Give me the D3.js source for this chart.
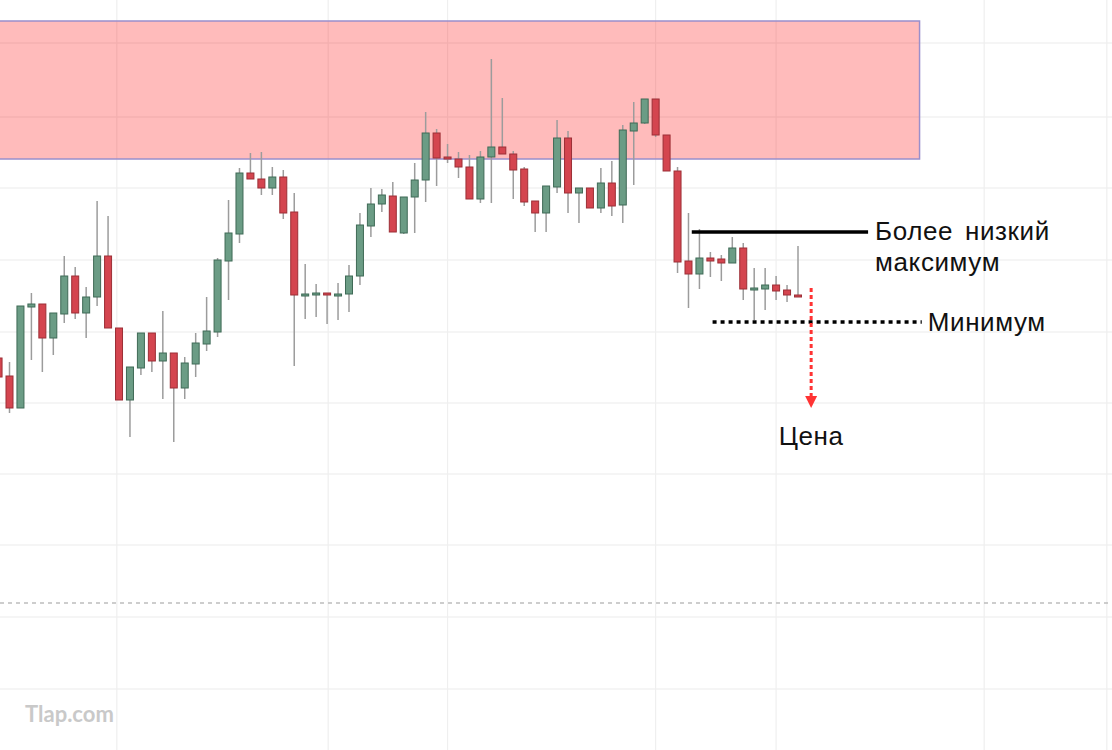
<!DOCTYPE html>
<html>
<head>
<meta charset="utf-8">
<script src="https://cdn.jsdelivr.net/npm/d3@7"></script>
<style>
  body { margin: 0; background: #fff; }
  svg { display: block; }
  .label { font-family: "Liberation Sans", Arial, sans-serif; font-size: 26px; fill: #111; letter-spacing: 0.6px; }
</style>
</head>
<body>
<svg id="chart" width="1112" height="750"></svg>
<script>
// candle data (price units)
const opens  = [1.1642,1.1624,1.1592,1.1693,1.1696,1.1662,1.1686,1.1724,1.1687,1.1703,
                1.1744,1.1672,1.1600,1.1632,1.1667,1.1639,1.1647,1.1612,1.1636,1.1656,
                1.1668,1.1739,1.1766,1.1827,1.1821,1.1812,1.1823,1.1788,1.1704,1.1705,
                1.1707,1.1705,1.1706,1.1724,1.1774,1.1796,1.1804,1.1767,1.1803,1.1820,
                1.1867,1.1843,1.1841,1.1833,1.1801,1.1843,1.1853,1.1846,1.1831,1.1799,
                1.1787,1.1813,1.1862,1.1807,1.1812,1.1792,1.1817,1.1795,1.1869,1.1877,
                1.1901,1.1865,1.1829,1.1739,1.1726,1.1742,1.1741,1.1737,1.1752,1.1711,
                1.1711,1.1715,1.1710,1.1705];
const highs  = [1.1648,1.1638,1.1694,1.1707,1.1696,1.1687,1.1744,1.1733,1.1713,1.1799,
                1.1784,1.1672,1.1633,1.1667,1.1667,1.1689,1.1647,1.1643,1.1667,1.1703,
                1.1742,1.1800,1.1832,1.1847,1.1848,1.1833,1.1830,1.1807,1.1736,1.1716,
                1.1707,1.1717,1.1735,1.1787,1.1812,1.1811,1.1818,1.1803,1.1837,1.1888,
                1.1871,1.1856,1.1848,1.1845,1.1849,1.1941,1.1902,1.1849,1.1833,1.1799,
                1.1814,1.1880,1.1869,1.1812,1.1812,1.1832,1.1839,1.1875,1.1898,1.1901,
                1.1901,1.1865,1.1833,1.1787,1.1771,1.1748,1.1745,1.1763,1.1757,1.1732,
                1.1732,1.1724,1.1715,1.1754];
const lows   = [1.1620,1.1587,1.1592,1.1640,1.1628,1.1645,1.1677,1.1681,1.1662,1.1694,
                1.1672,1.1600,1.1563,1.1625,1.1628,1.1601,1.1558,1.1601,1.1623,1.1649,
                1.1663,1.1700,1.1757,1.1821,1.1805,1.1805,1.1781,1.1634,1.1681,1.1683,
                1.1676,1.1680,1.1688,1.1715,1.1763,1.1788,1.1768,1.1766,1.1767,1.1798,
                1.1814,1.1837,1.1822,1.1801,1.1797,1.1797,1.1846,1.1801,1.1794,1.1768,
                1.1768,1.1807,1.1787,1.1777,1.1792,1.1787,1.1784,1.1777,1.1815,1.1876,
                1.1863,1.1829,1.1727,1.1692,1.1711,1.1723,1.1719,1.1737,1.1700,1.1680,
                1.1690,1.1700,1.1698,1.1704];
const closes = [1.1623,1.1592,1.1694,1.1696,1.1662,1.1687,1.1724,1.1687,1.1703,1.1744,
                1.1672,1.1600,1.1633,1.1667,1.1639,1.1647,1.1612,1.1637,1.1657,1.1669,
                1.1740,1.1767,1.1827,1.1821,1.1812,1.1823,1.1787,1.1705,1.1706,1.1707,
                1.1705,1.1706,1.1724,1.1775,1.1796,1.1805,1.1768,1.1803,1.1820,1.1867,
                1.1842,1.1841,1.1833,1.1801,1.1843,1.1853,1.1846,1.1830,1.1798,1.1787,
                1.1814,1.1862,1.1807,1.1812,1.1792,1.1817,1.1794,1.1870,1.1877,1.1901,
                1.1865,1.1829,1.1738,1.1726,1.1742,1.1739,1.1737,1.1752,1.1711,1.1712,
                1.1715,1.1709,1.1705,1.1704];

// grid levels (price) and time-grid positions (bar index)
const gridPrices = [1.1957,1.1883,1.1812,1.1740,1.1668,1.1597,1.1526,1.1455,1.1383,1.1311];
const gridBars = [10.8, 30.1, 41, 60, 71, 90, 101.2];
const currentPrice = 1.1397;

// annotations
const zone = { from: 0, to: 84.1, top: 1.1979, bottom: 1.1841 };
const lowerHigh = { from: 63.3, to: 79.4, price: 1.1768 };
const minimum = { from: 65.2, to: 84.3, price: 1.1678 };
const arrow = { bar: 74.2, from: 1.1712, to: 1.1592 };

const svg = d3.select("#chart");
const W = 1112, H = 750;

let x = d3.scaleLinear().domain([0, 73]).range([-1.45, 798]);
let y = d3.scaleLinear().domain([1.2, 1.125]).range([0, H]);

let data = opens.map((o, i) => ({ i: i, o: o, h: highs[i], l: lows[i], c: closes[i] }));

// grid
let grid = svg.append("g");
grid.selectAll(".hg").data(gridPrices).join("line")
  .attr("x1", 0).attr("x2", W)
  .attr("y1", d => y(d)).attr("y2", d => y(d))
  .attr("stroke", "#ececec").attr("stroke-width", 1.2);
grid.selectAll(".vg").data(gridBars).join("line")
  .attr("x1", d => x(d)).attr("x2", d => x(d))
  .attr("y1", 0).attr("y2", H)
  .attr("stroke", "#efefef").attr("stroke-width", 1.2);

// current price dashed line
svg.append("line")
  .attr("x1", 0).attr("x2", W)
  .attr("y1", y(currentPrice)).attr("y2", y(currentPrice))
  .attr("stroke", "#bdbdbd").attr("stroke-width", 1.5)
  .attr("stroke-dasharray", "4 4");

// resistance zone
svg.append("rect")
  .attr("x", x(zone.from) - 2).attr("y", y(zone.top))
  .attr("width", x(zone.to) - x(zone.from) + 2)
  .attr("height", y(zone.bottom) - y(zone.top))
  .attr("fill", "#ff0000").attr("fill-opacity", 0.265)
  .attr("stroke", "#9a8fcb").attr("stroke-width", 1.5);

// candles
let candles = svg.append("g").selectAll("g").data(data).join("g");
candles.append("line")
  .attr("x1", d => x(d.i)).attr("x2", d => x(d.i))
  .attr("y1", d => y(d.h)).attr("y2", d => y(d.l))
  .attr("stroke", "#9c9c9c").attr("stroke-width", 1.5);
candles.append("rect")
  .attr("x", d => x(d.i) - 3.5)
  .attr("width", 7)
  .attr("y", d => y(Math.max(d.o, d.c)))
  .attr("height", d => Math.max(2, Math.abs(y(d.o) - y(d.c))))
  .attr("fill", d => d.c >= d.o ? "#6b9c85" : "#d4454f")
  .attr("stroke", d => d.c >= d.o ? "#3f6a56" : "#9c2f36")
  .attr("stroke-width", 1);

// lower high line
svg.append("line")
  .attr("x1", x(lowerHigh.from)).attr("x2", x(lowerHigh.to))
  .attr("y1", y(lowerHigh.price)).attr("y2", y(lowerHigh.price))
  .attr("stroke", "#000").attr("stroke-width", 3.5);
svg.append("text").attr("class", "label")
  .attr("x", x(lowerHigh.to) + 7).attr("y", y(lowerHigh.price) + 8)
  .style("word-spacing", "4px")
  .text("Более низкий");
svg.append("text").attr("class", "label")
  .attr("x", x(lowerHigh.to) + 7).attr("y", y(lowerHigh.price) + 39)
  .text("максимум");

// minimum dotted line
svg.append("line")
  .attr("x1", x(minimum.from)).attr("x2", x(minimum.to))
  .attr("y1", y(minimum.price)).attr("y2", y(minimum.price))
  .attr("stroke", "#000").attr("stroke-width", 3.5)
  .attr("stroke-dasharray", "4 4");
svg.append("text").attr("class", "label")
  .attr("x", x(minimum.to) + 6).attr("y", y(minimum.price) + 9)
  .text("Минимум");

// red dotted arrow
svg.append("line")
  .attr("x1", x(arrow.bar)).attr("x2", x(arrow.bar))
  .attr("y1", y(arrow.from)).attr("y2", y(arrow.to) - 12)
  .attr("stroke", "#ff3333").attr("stroke-width", 3)
  .attr("stroke-dasharray", "4 3");
let ax = x(arrow.bar), ay = y(arrow.to);
svg.append("path")
  .attr("d", `M${ax - 6},${ay - 12} L${ax + 6},${ay - 12} L${ax},${ay} Z`)
  .attr("fill", "#ff3333");
svg.append("text").attr("class", "label")
  .attr("x", ax).attr("y", ay + 37)
  .attr("text-anchor", "middle")
  .text("Цена");

// watermark
svg.append("text")
  .attr("x", 25).attr("y", 722)
  .style("font-family", "Lato, sans-serif")
  .style("font-weight", "bold")
  .style("font-size", "22px")
  .attr("fill", "#c9c9c9")
  .text("Tlap.com");
</script>
</body>
</html>
